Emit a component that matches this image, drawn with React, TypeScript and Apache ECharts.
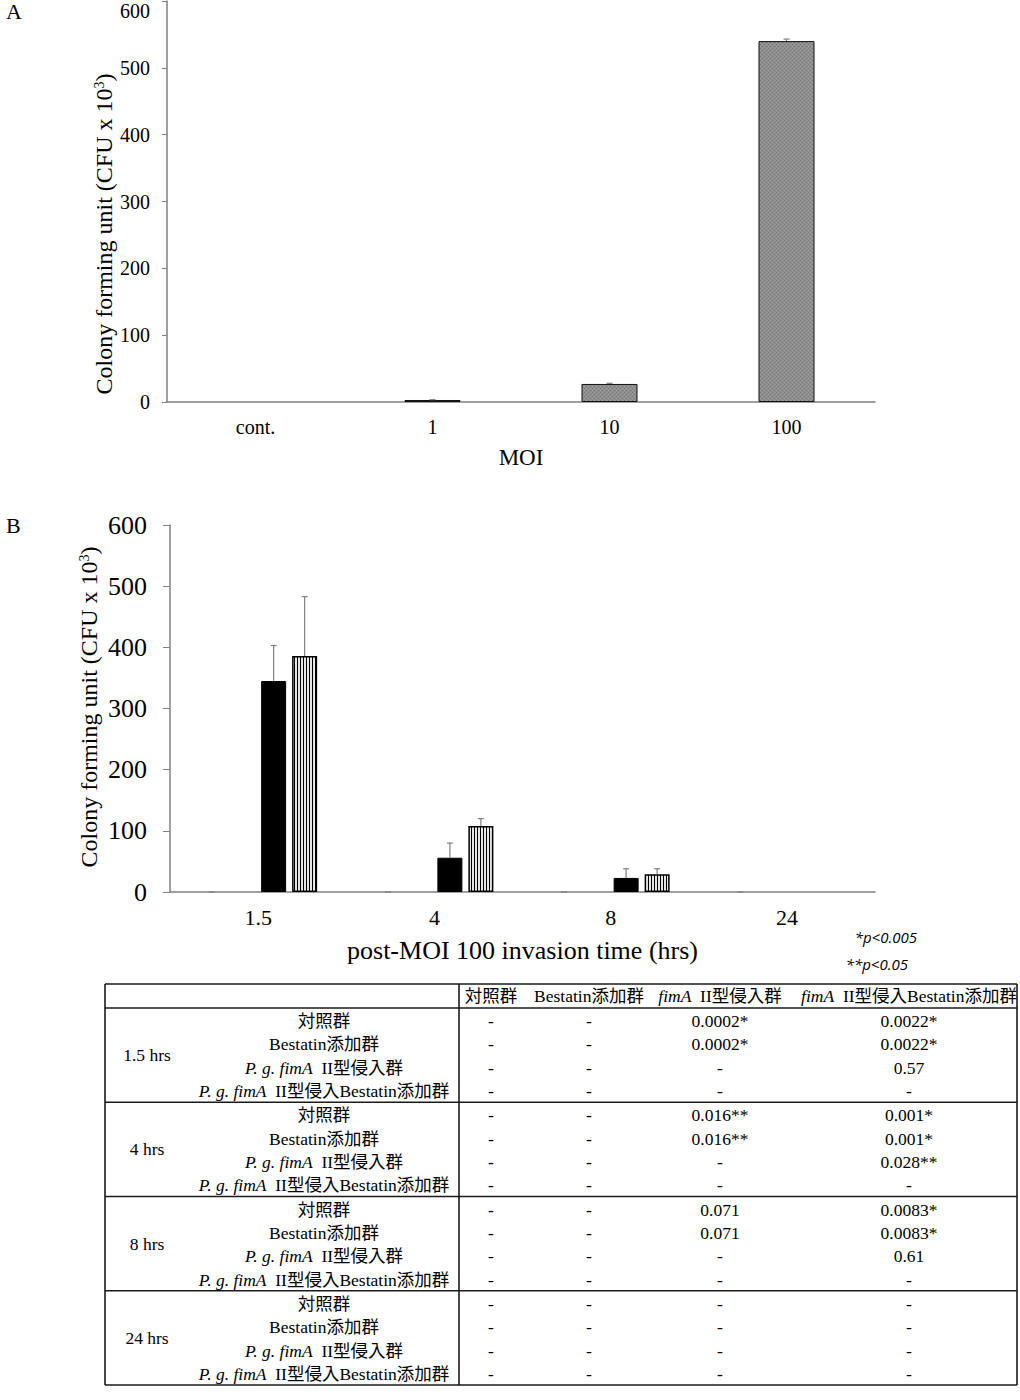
import React, { useEffect, useRef } from 'react';
import * as echarts from 'echarts';

// ---------- Data ----------
const moiCategories = ['cont.', '1', '10', '100'];
const moiValues = [0, 3, 27, 540];
const moiErrors = [-1, 0.5, 1, 3];

const timeCategories = ['1.5', '4', '8', '24'];
const groupNames = ['対照群', 'Bestatin添加群', 'fimA II型侵入群', 'fimA II型侵入Bestatin添加群'];
const controlValues = [0, 0, 0, 0];
const bestatinValues = [0, 0, 0, 0];
const fimAValues = [345, 56, 23, 0];
const fimABestatinValues = [386, 108, 29, 0];
const controlErrors = [0, 0, 0, 0];
const bestatinErrors = [-1, -1, -1, -1];
const fimAErrors = [58, 24, 15, -1];
const fimABestatinErrors = [97, 12, 9, -1];

const yTicks = [0, 600, 100]; // min, max, interval

const tableTimes = ['1.5 hrs', '4 hrs', '8 hrs', '24 hrs'];
const tableRowNames = ['対照群', 'Bestatin添加群', 'P. g. fimA  II型侵入群', 'P. g. fimA  II型侵入Bestatin添加群'];
const tableColNames = ['対照群', 'Bestatin添加群', 'fimA  II型侵入群', 'fimA  II型侵入Bestatin添加群'];
const pValues15 = [
  ['-', '-', '0.0002*', '0.0022*'],
  ['-', '-', '0.0002*', '0.0022*'],
  ['-', '-', '-', '0.57'],
  ['-', '-', '-', '-'],
];
const pValues4 = [
  ['-', '-', '0.016**', '0.001*'],
  ['-', '-', '0.016**', '0.001*'],
  ['-', '-', '-', '0.028**'],
  ['-', '-', '-', '-'],
];
const pValues8 = [
  ['-', '-', '0.071', '0.0083*'],
  ['-', '-', '0.071', '0.0083*'],
  ['-', '-', '-', '0.61'],
  ['-', '-', '-', '-'],
];
const pValues24 = [
  ['-', '-', '-', '-'],
  ['-', '-', '-', '-'],
  ['-', '-', '-', '-'],
  ['-', '-', '-', '-'],
];
const noteLines = ['*p<0.005', '**p<0.05'];

// ---------- Styles ----------
const SERIF = "'Liberation Serif', 'Times New Roman', 'Noto Sans CJK JP', serif";
const AXIS_GRAY = '#808080';

function makePattern(w: number, h: number, draw: (ctx: CanvasRenderingContext2D) => void) {
  const c = document.createElement('canvas');
  c.width = w;
  c.height = h;
  const ctx = c.getContext('2d') as CanvasRenderingContext2D;
  draw(ctx);
  return { image: c.toDataURL(), repeat: 'repeat', imageWidth: w, imageHeight: h };
}

function richName(s: string) {
  return s.replace(/(P\. g\. fimA|fimA)/, '{i|$1}');
}

export default function App() {
  const ref = useRef<HTMLDivElement>(null);

  useEffect(() => {
    if (!ref.current) return;
    const chart = echarts.init(ref.current, undefined, { renderer: 'svg' });

    const dotPattern = makePattern(4, 4, (ctx) => {
      ctx.fillStyle = '#8e8e8e';
      ctx.fillRect(0, 0, 4, 4);
      ctx.fillStyle = '#767676';
      ctx.fillRect(0, 0, 1, 1);
      ctx.fillRect(2, 2, 1, 1);
      ctx.fillStyle = '#a2a2a2';
      ctx.fillRect(2, 0, 1, 1);
      ctx.fillRect(0, 2, 1, 1);
    });
    const stripePattern = makePattern(3, 2, (ctx) => {
      ctx.fillStyle = '#e6e6e6';
      ctx.fillRect(0, 0, 3, 2);
      ctx.fillStyle = '#000';
      ctx.fillRect(0, 0, 1, 2);
    });

    const axisLabel = (size: number, margin: number) => ({
      color: '#000',
      fontSize: size,
      fontFamily: SERIF,
      margin,
    });

    const barData = (vals: number[], bw: number) =>
      vals.map((v) => (v === 0 ? { value: v, itemStyle: { borderWidth: 0 } } : { value: v, itemStyle: { borderWidth: bw } }));

    const errorSeries = (xi: number, vals: number[], errs: number[], offset: number, capHalf: number) => ({
      type: 'custom',
      xAxisIndex: xi,
      yAxisIndex: xi,
      z: 10,
      silent: true,
      data: vals.map((v, i) => [i, v, errs[i]]),
      renderItem: (params: any, api: any) => {
        const i = api.value(0);
        const v = api.value(1);
        const e = api.value(2);
        if (e < 0) return null;
        const b = api.coord([i, v]);
        const t = api.coord([i, v + e]);
        const x = b[0] + offset;
        const st = { stroke: AXIS_GRAY, lineWidth: 1.2 };
        return {
          type: 'group',
          children: [
            { type: 'line', shape: { x1: x, y1: b[1], x2: x, y2: t[1] }, style: st },
            { type: 'line', shape: { x1: x - capHalf, y1: t[1], x2: x + capHalf, y2: t[1] }, style: st },
          ],
        };
      },
    });

    // B bar layout: width 25, gap 6 -> offsets
    const BW = 25;
    const BGAP = 6;
    const nB = 4;
    const totalB = nB * BW + (nB - 1) * BGAP;
    const offB = (k: number) => -totalB / 2 + BW / 2 + k * (BW + BGAP);

    // ---------- Table graphics ----------
    const T = {
      left: 105,
      right: 1017,
      top: 984,
      headerBottom: 1008,
      bottom: 1385,
      divX: 459,
      timeX: 147,
      rowLabelX: 324,
      colX: [491, 589, 720, 909],
      firstRow: 13,
      rowH: 23.4,
      fontSize: 17.5,
    };
    const groupH = (T.bottom - T.headerBottom) / tableTimes.length;
    const pTables = [pValues15, pValues4, pValues8, pValues24];
    const richStyle = {
      i: { fontStyle: 'italic', fontSize: T.fontSize, fontFamily: SERIF, fill: '#000' },
    };
    const txt = (x: number, y: number, text: string, extra: any = {}) => ({
      type: 'text',
      x,
      y,
      silent: true,
      style: {
        text,
        fill: '#000',
        fontSize: T.fontSize,
        fontFamily: SERIF,
        align: 'center',
        verticalAlign: 'middle',
        rich: richStyle,
        ...extra,
      },
    });
    const lineEl = (x1: number, y1: number, x2: number, y2: number, w = 1.6) => ({
      type: 'line',
      silent: true,
      shape: { x1, y1, x2, y2 },
      style: { stroke: '#1a1a1a', lineWidth: w },
    });

    const tableEls: any[] = [];
    tableEls.push(lineEl(T.left, T.top, T.right, T.top));
    tableEls.push(lineEl(T.left, T.headerBottom, T.right, T.headerBottom));
    tableEls.push(lineEl(T.left, T.top, T.left, T.bottom));
    tableEls.push(lineEl(T.right, T.top, T.right, T.bottom));
    tableEls.push(lineEl(T.divX, T.top, T.divX, T.bottom));
    tableColNames.forEach((c, j) => {
      tableEls.push(txt(T.colX[j], (T.top + T.headerBottom) / 2, richName(c)));
    });
    tableTimes.forEach((tm, g) => {
      const gTop = T.headerBottom + g * groupH;
      const gBot = gTop + groupH;
      tableEls.push(lineEl(T.left, gBot, T.right, gBot));
      tableEls.push(txt(T.timeX, (gTop + gBot) / 2, tm));
      tableRowNames.forEach((rn, r) => {
        const y = gTop + T.firstRow + r * T.rowH;
        tableEls.push(txt(T.rowLabelX, y, richName(rn)));
        pTables[g][r].forEach((p, j) => {
          tableEls.push(txt(T.colX[j], y, p));
        });
      });
    });

    const yTitle = (x: number, y: number, size: number) => ({
      type: 'text',
      x,
      y,
      rotation: Math.PI / 2,
      silent: true,
      style: {
        text: 'Colony forming unit (CFU x 10{sup|3})',
        fill: '#000',
        fontSize: size,
        fontFamily: SERIF,
        align: 'center',
        verticalAlign: 'middle',
        rich: {
          sup: { fontSize: Math.round(size * 0.6), fontFamily: SERIF, fill: '#000', verticalAlign: 'top' },
        },
      },
    });

    const noteStyle = {
      fill: '#000',
      fontSize: 15,
      fontStyle: 'italic',
      fontFamily: "'Open Sans', 'Liberation Sans', sans-serif",
      align: 'right',
      verticalAlign: 'middle',
    };

    const option: any = {
      animation: false,
      backgroundColor: '#ffffff',
      grid: [
        { left: 167, top: 1, width: 708, height: 401, containLabel: false, outerBoundsMode: 'none' },
        { left: 170, top: 525, width: 705, height: 367, containLabel: false, outerBoundsMode: 'none' },
      ],
      xAxis: [
        {
          gridIndex: 0,
          type: 'category',
          data: moiCategories,
          axisTick: { show: false },
          axisLine: { lineStyle: { color: AXIS_GRAY, width: 1.5 } },
          axisLabel: axisLabel(20, 15),
          name: 'MOI',
          nameLocation: 'middle',
          nameGap: 44,
          nameTextStyle: { color: '#000', fontSize: 23, fontFamily: SERIF },
        },
        {
          gridIndex: 1,
          type: 'category',
          data: timeCategories,
          axisTick: { show: false },
          axisLine: { lineStyle: { color: AXIS_GRAY, width: 1.5 } },
          axisLabel: axisLabel(22, 14),
          name: 'post-MOI 100 invasion time (hrs)',
          nameLocation: 'middle',
          nameGap: 45,
          nameTextStyle: { color: '#000', fontSize: 26, fontFamily: SERIF },
        },
      ],
      yAxis: [
        {
          gridIndex: 0,
          type: 'value',
          min: yTicks[0],
          max: yTicks[1],
          interval: yTicks[2],
          axisLine: { show: true, lineStyle: { color: AXIS_GRAY, width: 1.5 } },
          axisTick: { show: true, length: 5, lineStyle: { color: AXIS_GRAY } },
          splitLine: { show: false },
          axisLabel: {
            ...axisLabel(20, 17),
            formatter: (v: number) => (v === yTicks[1] ? `{top|${v}}` : String(v)),
            rich: {
              top: { fontSize: 20, fontFamily: SERIF, color: '#000', padding: [20, 0, 0, 0] },
            },
          },
        },
        {
          gridIndex: 1,
          type: 'value',
          min: yTicks[0],
          max: yTicks[1],
          interval: yTicks[2],
          axisLine: { show: true, lineStyle: { color: AXIS_GRAY, width: 1.5 } },
          axisTick: { show: true, length: 7, lineStyle: { color: AXIS_GRAY } },
          splitLine: { show: false },
          axisLabel: axisLabel(26, 23),
        },
      ],
      series: [
        {
          name: 'MOI',
          type: 'bar',
          xAxisIndex: 0,
          yAxisIndex: 0,
          barWidth: 56,
          data: barData(moiValues, 1),
          itemStyle: { color: dotPattern, borderColor: '#111' },
        },
        errorSeries(0, moiValues, moiErrors, 0, 3),
        {
          name: groupNames[0],
          type: 'bar',
          xAxisIndex: 1,
          yAxisIndex: 1,
          barWidth: BW,
          barGap: `${(BGAP / BW) * 100}%`,
          data: barData(controlValues, 1),
          itemStyle: { color: '#ffffff', borderColor: '#000' },
        },
        {
          name: groupNames[1],
          type: 'bar',
          xAxisIndex: 1,
          yAxisIndex: 1,
          barWidth: BW,
          barGap: `${(BGAP / BW) * 100}%`,
          data: barData(bestatinValues, 1),
          itemStyle: { color: '#bfbfbf', borderColor: '#000' },
        },
        {
          name: groupNames[2],
          type: 'bar',
          xAxisIndex: 1,
          yAxisIndex: 1,
          barWidth: BW,
          barGap: `${(BGAP / BW) * 100}%`,
          data: barData(fimAValues, 1),
          itemStyle: { color: '#000000', borderColor: '#000' },
        },
        {
          name: groupNames[3],
          type: 'bar',
          xAxisIndex: 1,
          yAxisIndex: 1,
          barWidth: BW,
          barGap: `${(BGAP / BW) * 100}%`,
          data: barData(fimABestatinValues, 1.5),
          itemStyle: { color: stripePattern, borderColor: '#000' },
        },
        errorSeries(1, controlValues, controlErrors, offB(0), 3),
        errorSeries(1, bestatinValues, bestatinErrors, offB(1), 3),
        errorSeries(1, fimAValues, fimAErrors, offB(2), 3),
        errorSeries(1, fimABestatinValues, fimABestatinErrors, offB(3), 3),
      ],
      graphic: [
        {
          type: 'text',
          x: 6,
          y: 0,
          silent: true,
          style: { text: 'A', fill: '#000', fontSize: 22, fontFamily: SERIF, verticalAlign: 'top' },
        },
        {
          type: 'text',
          x: 6,
          y: 525,
          silent: true,
          style: { text: 'B', fill: '#000', fontSize: 22, fontFamily: SERIF, verticalAlign: 'middle' },
        },
        yTitle(104, 234, 24),
        yTitle(89, 707, 24),
        { type: 'text', x: 917, y: 937, silent: true, style: { text: noteLines[0], ...noteStyle } },
        { type: 'text', x: 908, y: 964, silent: true, style: { text: noteLines[1], ...noteStyle } },
        ...tableEls,
      ],
    };

    chart.setOption(option);
    return () => chart.dispose();
  }, []);

  return (
    <div
      ref={ref}
      style={{ position: 'absolute', left: 0, top: 0, width: 1020, height: 1400, background: '#fff' }}
    />
  );
}
